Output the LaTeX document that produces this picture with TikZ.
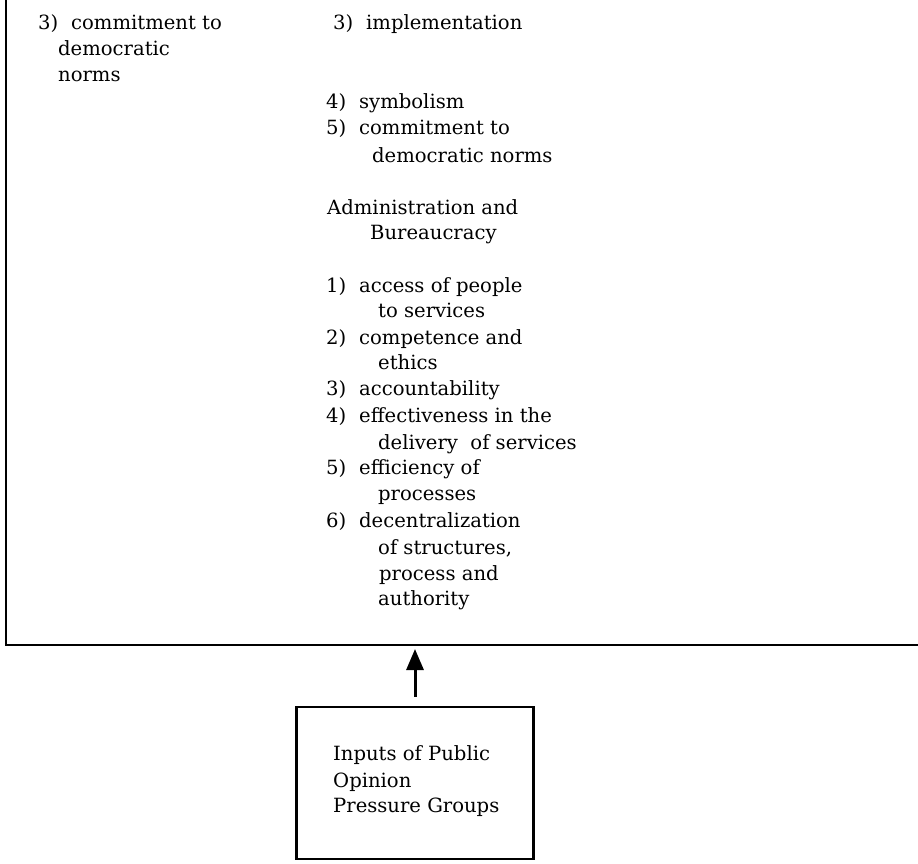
\documentclass[tikz,border=0pt]{standalone}
\usepackage{fontspec}
\setmainfont{DejaVu Serif}
\usetikzlibrary{arrows.meta}
\newcommand{\fsz}{\fontsize{19.6pt}{26pt}\selectfont}
\newcommand{\numbox}[1]{\makebox[33pt][l]{#1}}
\tikzset{
  txt/.style={anchor=base west, inner sep=0pt, font=\fsz},
  frame/.style={line width=2.7pt},
  inbox/.style={draw, line width=2.2pt, minimum width=237pt, minimum height=152pt, inner sep=0pt},
  uparrow/.style={line width=3pt, -{Triangle[length=21pt,width=17pt]}}
}
\begin{document}
\begin{tikzpicture}[x=1pt,y=-1pt]
\useasboundingbox (0,0) rectangle (918,864);
% frame of the large box (left edge and bottom)
\coordinate (ftop) at (6,0);
\coordinate (fcorner) at (6,645);
\coordinate (fright) at (918,645);
\draw[frame] (ftop) -- (fcorner) -- (fright);
% left column
\node[txt] (l1) at (38,30) {\numbox{3)}commitment to};
\node[txt] (l2) at (58,56) {democratic};
\node[txt] (l3) at (58,82) {norms};
% middle column
\node[txt] (m1) at (333,30) {\numbox{3)}implementation};
\node[txt] (m2) at (326,109) {\numbox{4)}symbolism};
\node[txt] (m3) at (326,135) {\numbox{5)}commitment to};
\node[txt] (m4) at (372,162) {democratic norms};
\node[txt] (m5) at (327,214) {Administration and};
\node[txt] (m6) at (370,239) {Bureaucracy};
\node[txt] (m7) at (326,292) {\numbox{1)}access of people};
\node[txt] (m8) at (378,317) {to services};
\node[txt] (m9) at (326,344) {\numbox{2)}competence and};
\node[txt] (m10) at (378,369) {ethics};
\node[txt] (m11) at (326,395) {\numbox{3)}accountability};
\node[txt] (m12) at (326,422) {\numbox{4)}effectiveness in the};
\node[txt] (m13) at (378,449) {delivery\ \ of services};
\node[txt] (m14) at (326,474) {\numbox{5)}efficiency of};
\node[txt] (m15) at (378,500) {processes};
\node[txt] (m16) at (326,527) {\numbox{6)}decentralization};
\node[txt] (m17) at (378,554) {of structures,};
\node[txt] (m18) at (379,580) {process and};
\node[txt] (m19) at (378,605) {authority};
% inputs box
\node[inbox] (inp) at (415,783) {};
\node[txt] (i1) at (333,760) {Inputs of Public};
\node[txt] (i2) at (333,787) {Opinion};
\node[txt] (i3) at (333,812) {Pressure Groups};
% arrow
\coordinate (tip) at (415,649);
\draw[uparrow, shorten <=9pt] (inp.north -| tip) -- (tip);
\end{tikzpicture}
\end{document}
